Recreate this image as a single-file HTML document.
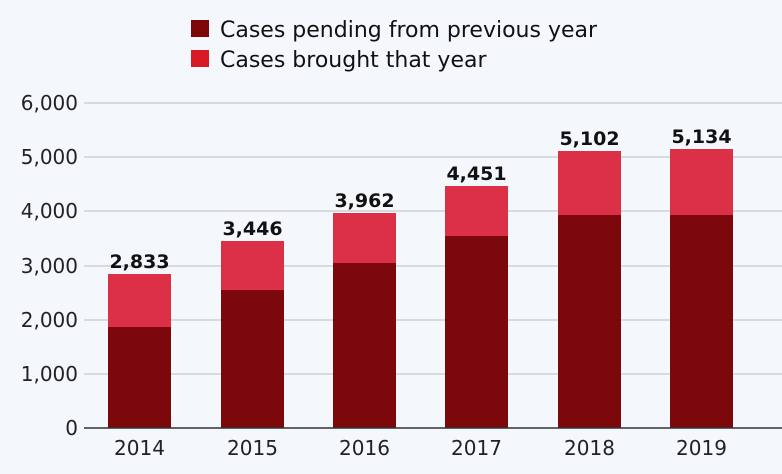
<!DOCTYPE html>
<html><head><meta charset="utf-8"><style>
body{margin:0;background:#f4f7fb;}
svg{display:block;font-family:"DejaVu Sans","Liberation Sans",sans-serif;}
</style></head><body>
<svg width="782" height="474" viewBox="0 0 782 474">
<rect width="782" height="474" fill="#f4f7fb"/>
<rect x="191" y="20" width="18" height="17" fill="#7d0609"/>
<rect x="191" y="50" width="18" height="17" fill="#d71a26"/>
<text x="220" y="37" font-size="22" fill="#111">Cases pending from previous year</text>
<text x="220" y="67" font-size="22" fill="#111">Cases brought that year</text>
<g stroke="#c8c8c8" stroke-width="1.3">
<line x1="84" y1="103" x2="782" y2="103"/>
<line x1="84" y1="157" x2="782" y2="157"/>
<line x1="84" y1="211" x2="782" y2="211"/>
<line x1="84" y1="266" x2="782" y2="266"/>
<line x1="84" y1="320" x2="782" y2="320"/>
<line x1="84" y1="374" x2="782" y2="374"/>
</g>
<g font-size="20" fill="#222" text-anchor="end">
<text x="78" y="110">6,000</text>
<text x="78" y="164">5,000</text>
<text x="78" y="218">4,000</text>
<text x="78" y="273">3,000</text>
<text x="78" y="327">2,000</text>
<text x="78" y="381">1,000</text>
<text x="78" y="435">0</text>
</g>
<g fill="#dc3046">
<rect x="108" y="274" width="63" height="154"/>
<rect x="221" y="241" width="63" height="187"/>
<rect x="333" y="213" width="63" height="215"/>
<rect x="445" y="186" width="63" height="242"/>
<rect x="558" y="151" width="63" height="277"/>
<rect x="670" y="149" width="63" height="279"/>
</g>
<g fill="#7d080c">
<rect x="108" y="327" width="63" height="101"/>
<rect x="221" y="290" width="63" height="138"/>
<rect x="333" y="263" width="63" height="165"/>
<rect x="445" y="236" width="63" height="192"/>
<rect x="558" y="215" width="63" height="213"/>
<rect x="670" y="215" width="63" height="213"/>
</g>
<line x1="84" y1="428" x2="782" y2="428" stroke="#333" stroke-width="1.5"/>
<g font-size="19" font-weight="bold" fill="#111" text-anchor="middle">
<text x="139.5" y="268">2,833</text>
<text x="252.5" y="235">3,446</text>
<text x="364.5" y="207">3,962</text>
<text x="476.5" y="180">4,451</text>
<text x="589.5" y="145">5,102</text>
<text x="701.5" y="143">5,134</text>
</g>
<g font-size="20" fill="#222" text-anchor="middle">
<text x="139.5" y="455">2014</text>
<text x="252.5" y="455">2015</text>
<text x="364.5" y="455">2016</text>
<text x="476.5" y="455">2017</text>
<text x="589.5" y="455">2018</text>
<text x="701.5" y="455">2019</text>
</g>
</svg>
</body></html>
